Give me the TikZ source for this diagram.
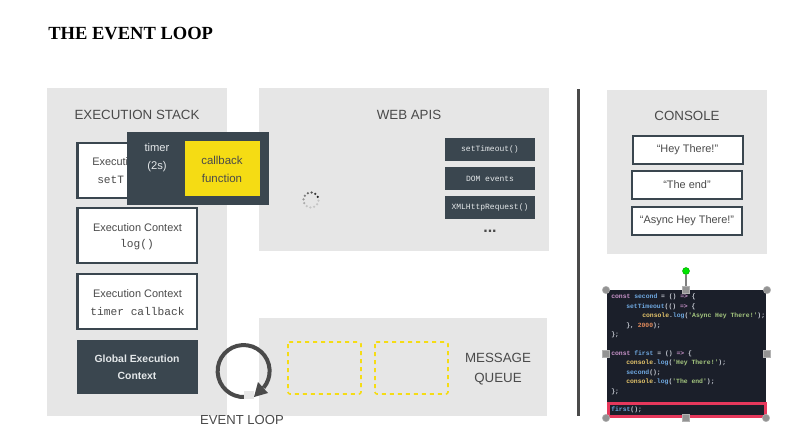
\documentclass[tikz,border=0pt]{standalone}
\usepackage{fontspec}
\setmainfont{Liberation Sans}
\setmonofont{Liberation Mono}
\newfontfamily\titlefont{Liberation Serif}
\definecolor{panelgray}{HTML}{E6E6E6}
\definecolor{slate}{HTML}{3A464F}
\definecolor{inktext}{HTML}{4A4A4A}
\definecolor{softwhite}{HTML}{E4E8EA}
\definecolor{cbyellow}{HTML}{F5DC14}
\definecolor{codebg}{HTML}{1B1F2A}
\definecolor{codered}{HTML}{E6385C}
\definecolor{codepink}{HTML}{C792C8}
\definecolor{codeblue}{HTML}{6FA8E0}
\definecolor{codegold}{HTML}{E5C56B}
\definecolor{codegreen}{HTML}{A5C77F}
\definecolor{codeorange}{HTML}{E08A5B}
\definecolor{codewhite}{HTML}{C8CCD4}
\newcommand{\kw}[1]{\textcolor{codepink}{#1}}
\newcommand{\fn}[1]{\textcolor{codeblue}{#1}}
\newcommand{\gd}[1]{\textcolor{codegold}{#1}}
\newcommand{\str}[1]{\textcolor{codegreen}{#1}}
\begin{document}
\begin{tikzpicture}[
    x=0.75pt,
    y=-0.75pt,
    panel/.style={fill=panelgray, draw=none},
    heading/.style={font=\fontsize{10}{12}\selectfont, text=inktext, inner sep=0pt},
    ctxbox/.style={draw=slate, line width=1.6pt, fill=white, inner sep=0pt},
    ctxtext/.style={font=\fontsize{8.2}{10}\selectfont, text=inktext, inner sep=0pt},
    ctxmono/.style={font=\ttfamily\fontsize{8.4}{10}\selectfont, text=inktext, inner sep=0pt},
    apibtn/.style={fill=slate, draw=none, text=softwhite, font=\ttfamily\fontsize{6}{8}\selectfont, inner sep=0pt},
    consbox/.style={draw=slate, line width=1.5pt, fill=white, text=inktext, font=\fontsize{8.2}{10}\selectfont, inner sep=0pt},
    darktext/.style={text=softwhite, font=\fontsize{8.2}{10}\selectfont, inner sep=0pt, align=center},
    queueslot/.style={draw=cbyellow, line width=1.2pt, dash pattern=on 3pt off 3pt, rounded corners=1.5pt},
    codeline/.style={font=\ttfamily\bfseries\fontsize{4.8}{6}\selectfont, text=codewhite, anchor=west, inner sep=0pt},
    handle/.style={circle, fill=gray!85, draw=gray!60, minimum size=5.5pt, inner sep=0pt},
    sqhandle/.style={rectangle, fill=gray!85, draw=gray!60, minimum size=5.25pt, inner sep=0pt}
]
\useasboundingbox (0,0) rectangle (786,447);
\fill[white] (0,0) rectangle (786,447);

% Page title
\node[anchor=base west, inner sep=0pt, font=\titlefont\bfseries\fontsize{13.9}{16}\selectfont] (title) at (48,39.5) {THE EVENT LOOP};

% Grey panels
\fill[panel] (47,88) rectangle (227,416);
\fill[panel] (259,88) rectangle (549,251);
\fill[panel] (259,318) rectangle (547,416);
\fill[panel] (607,90) rectangle (767,254);
\fill[inktext] (576.5,89) rectangle (579.5,416);

% Headings
\node[heading] (stackhead) at (137,114.5) {EXECUTION STACK};
\node[heading] (webhead) at (409,114.5) {WEB APIS};
\node[heading] (conshead) at (687,115.5) {CONSOLE};
\node[heading, align=center, font=\fontsize{10}{15}\selectfont] (queuehead) at (498,369) {MESSAGE\\QUEUE};
\node[heading, font=\fontsize{9.8}{12}\selectfont] (loophead) at (242,420) {EVENT LOOP};

% Execution stack
\draw[ctxbox] (77.5,143) rectangle (197,198);
\draw[ctxbox] (77.5,208) rectangle (197,263);
\draw[ctxbox] (77.5,274) rectangle (197,329);
\fill[slate] (77,340) rectangle (198,394);

\node[ctxtext, anchor=west] (ctxa) at (92,162) {Executi};
\node[ctxmono, anchor=west] (ctxamono) at (97,180) {setT};
\node[ctxtext] (ctxb) at (137.5,228) {Execution Context};
\node[ctxmono] (ctxbmono) at (137,245) {log()};
\node[ctxtext] (ctxc) at (137.5,294) {Execution Context};
\node[ctxmono] (ctxcmono) at (137.5,311) {timer callback};
\node[darktext, font=\bfseries\fontsize{7.8}{13}\selectfont] (globalctx) at (137,367) {Global Execution\\Context};

% Timer popup
\fill[slate] (127,132) rectangle (269,205);
\fill[cbyellow] (185,141) rectangle (260,196);
\node[darktext, font=\fontsize{8.4}{13.4}\selectfont] (timer) at (157,157.5) {timer\\(2s)};
\node[text=inktext, inner sep=0pt, align=center, font=\fontsize{8.6}{13.4}\selectfont] (callback) at (222,169.5) {callback\\function};

% Web APIs
\node[apibtn, minimum width=67.5pt, minimum height=17.25pt] (apia) at (490,149.5) {setTimeout()};
\node[apibtn, minimum width=67.5pt, minimum height=17.25pt] (apib) at (490,178.5) {DOM events};
\node[apibtn, minimum width=67.5pt, minimum height=17.25pt] (apic) at (490,207) {XMLHttpRequest()};
\node[text=inktext, inner sep=0pt, font=\bfseries\fontsize{12}{12}\selectfont] (apidots) at (490,231.5) {...};

% Spinner
\foreach \i in {0,...,11}
    \fill[black, opacity={max(0.14,0.85-0.1*\i)}] ({311+7.5*cos(-25-30*\i)},{200+7.5*sin(-25-30*\i)}) circle (1.25);

% Queue slots
\draw[queueslot] (288,342) rectangle (361,394);
\draw[queueslot] (375,342) rectangle (448,394);

% Event loop ring
\draw[inktext, line width=3pt] (245,397) arc[start angle=87, end angle=400, radius=26];
\fill[panelgray] (244,391) rectangle (254,399);
\fill[inktext] (254,397) -- (268,393) -- (258,382) -- cycle;

% Console
\node[consbox, minimum width=82.5pt, minimum height=20.5pt] (consa) at (687.5,150) {``Hey There!''};
\node[consbox, minimum width=82pt, minimum height=20.5pt] (consb) at (687,185) {``The end''};
\node[consbox, minimum width=82pt, minimum height=20.5pt] (consc) at (687,221) {``Async Hey There!''};

% Code picture
\fill[codebg] (607,290) rectangle (766,417);
\node[codeline] (la) at (611,297) {\kw{const} \fn{second} = () \kw{=>} \{};
\node[codeline] (lb) at (626,306.7) {\fn{setTimeout}(() \kw{=>} \{};
\node[codeline] (lc) at (642,316) {\gd{console}.\fn{log}(\str{'Async Hey There!'});};
\node[codeline] (ld) at (626,325.7) {\}, \textcolor{codeorange}{2000});};
\node[codeline] (le) at (611,335) {\};};
\node[codeline] (lf) at (611,353.7) {\kw{const} \fn{first} = () \kw{=>} \{};
\node[codeline] (lg) at (626,363) {\gd{console}.\fn{log}(\str{'Hey There!'});};
\node[codeline] (lh) at (626,372.7) {\fn{second}();};
\node[codeline] (li) at (626,382) {\gd{console}.\fn{log}(\str{'The end'});};
\node[codeline] (lj) at (611,391.7) {\};};
\node[codeline] (lk) at (611,410) {\fn{first}();};
\draw[codered, line width=2.25pt] (608,403.5) rectangle (765,416.5);

% Selection handles
\node[handle] (hnw) at (606,290) {};
\node[handle] (hne) at (767,290) {};
\node[handle] (hsw) at (606,418) {};
\node[handle] (hse) at (766,418) {};
\node[sqhandle] (hn) at (686,290) {};
\node[sqhandle] (hw) at (606,354) {};
\node[sqhandle] (he) at (767,354) {};
\node[sqhandle] (hs) at (686,418) {};
\node[circle, fill=green!90!black, draw=green!60!black, line width=0.3pt, minimum size=5.25pt, inner sep=0pt] (hrot) at (686,271) {};
\draw[gray, line width=1pt] (hrot) -- (hn);

\end{tikzpicture}
\end{document}
